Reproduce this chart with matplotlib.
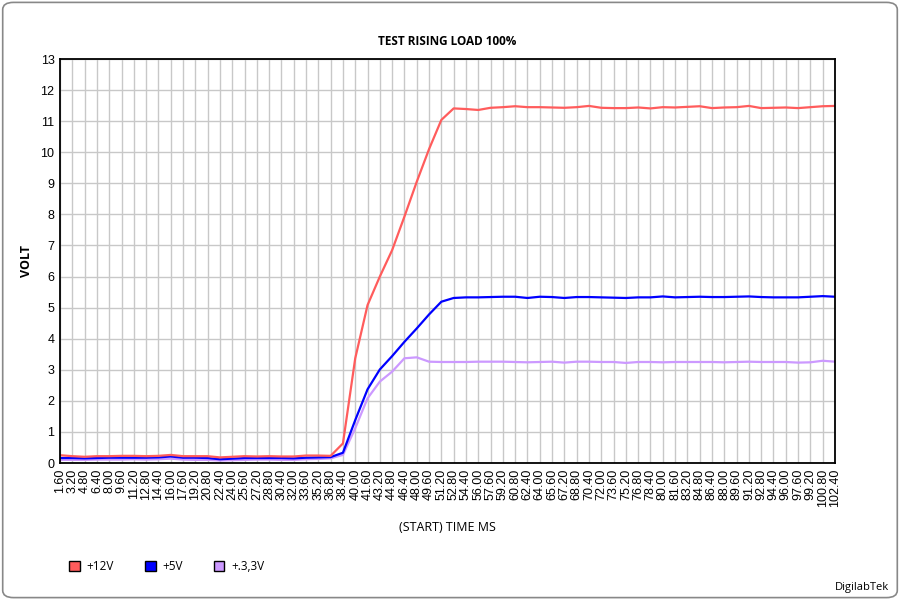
import matplotlib.pyplot as plt
from matplotlib.patches import Patch, FancyBboxPatch

times = ['1.60', '3.20', '4.80', '6.40', '8.00', '9.60', '11.20', '12.80', '14.40', '16.00',
         '17.60', '19.20', '20.80', '22.40', '24.00', '25.60', '27.20', '28.80', '30.40', '32.00',
         '33.60', '35.20', '36.80', '38.40', '40.00', '41.60', '43.20', '44.80', '46.40', '48.00',
         '49.60', '51.20', '52.80', '54.40', '56.00', '57.60', '59.20', '60.80', '62.40', '64.00',
         '65.60', '67.20', '68.80', '70.40', '72.00', '73.60', '75.20', '76.80', '78.40', '80.00',
         '81.60', '83.20', '84.80', '86.40', '88.00', '89.60', '91.20', '92.80', '94.40', '96.00',
         '97.60', '99.20', '100.80', '102.40']

v12 = [0.25, 0.22, 0.20, 0.22, 0.22, 0.23, 0.23, 0.22, 0.23, 0.26, 0.22, 0.22, 0.22, 0.18,
       0.20, 0.22, 0.21, 0.22, 0.21, 0.21, 0.24, 0.24, 0.23,
       0.63, 3.37, 5.08, 6.00, 6.85, 7.93, 9.05, 10.10, 11.04,
       11.41, 11.39, 11.36, 11.43, 11.45, 11.48, 11.45, 11.45, 11.44, 11.43, 11.45, 11.49,
       11.43, 11.42, 11.42, 11.44, 11.41, 11.45, 11.44, 11.46, 11.48, 11.42, 11.44, 11.45,
       11.49, 11.42, 11.43, 11.44, 11.42, 11.45, 11.48, 11.49]

v5 = [0.16, 0.16, 0.15, 0.16, 0.17, 0.17, 0.17, 0.17, 0.18, 0.21, 0.17, 0.17, 0.16, 0.12,
      0.14, 0.16, 0.16, 0.16, 0.16, 0.15, 0.17, 0.18, 0.19,
      0.33, 1.38, 2.37, 3.01, 3.44, 3.90, 4.33, 4.78, 5.19,
      5.31, 5.33, 5.33, 5.34, 5.35, 5.35, 5.31, 5.35, 5.34, 5.31, 5.34, 5.34, 5.33, 5.32,
      5.31, 5.33, 5.33, 5.36, 5.33, 5.34, 5.35, 5.34, 5.34, 5.35, 5.36, 5.34, 5.33, 5.33,
      5.33, 5.35, 5.37, 5.35]

v33 = [0.10, 0.10, 0.10, 0.11, 0.11, 0.11, 0.12, 0.11, 0.12, 0.14, 0.11, 0.10, 0.10, 0.08,
       0.09, 0.10, 0.11, 0.11, 0.10, 0.10, 0.12, 0.13, 0.15,
       0.26, 1.12, 2.08, 2.62, 2.94, 3.37, 3.40, 3.26, 3.25,
       3.25, 3.25, 3.26, 3.26, 3.26, 3.25, 3.24, 3.25, 3.26, 3.23, 3.26, 3.26, 3.25, 3.25,
       3.22, 3.25, 3.25, 3.24, 3.25, 3.25, 3.25, 3.25, 3.24, 3.25, 3.26, 3.25, 3.25, 3.25,
       3.23, 3.24, 3.29, 3.26]

series = ['+12V', '+5V', '+.3,3V']
colors = ['#ff5c5c', '#0000ff', '#cc99ff']

fig = plt.figure(figsize=(9, 6), dpi=100)
fig.patches.append(FancyBboxPatch((0.003, 0.004), 0.994, 0.992,
                                  boxstyle='round,pad=0,rounding_size=0.012',
                                  transform=fig.transFigure, facecolor='white',
                                  edgecolor='#888888', linewidth=1.2, zorder=-1))

ax = fig.add_axes([60 / 900, 137 / 600, 775 / 900, 404 / 600])
x = list(range(len(times)))
for vals, c in zip([v33, v5, v12], [colors[2], colors[1], colors[0]]):
    ax.plot(x, vals, color=c, linewidth=1.6)

ax.set_xlim(0, len(times) - 1)
ax.set_ylim(0, 13)
ax.set_xticks(x)
ax.set_xticklabels(times, rotation=90, fontsize=9, family='Liberation Sans')
ax.set_yticks(range(14))
ax.set_yticklabels([str(v) for v in range(14)], fontsize=9, family='Liberation Sans')
ax.tick_params(length=0, pad=4)
ax.grid(True, color='#c8c8c8', linewidth=1)
ax.set_axisbelow(True)
for s in ax.spines.values():
    s.set_color('black')
    s.set_linewidth(1.3)

ax.set_title('TEST RISING LOAD 100%', fontsize=8.5, fontweight='bold',
             family='Open Sans', pad=10)
ax.set_ylabel('VOLT', fontsize=9, fontweight='bold', family='Open Sans', labelpad=5)
ax.set_xlabel('(START) TIME MS', fontsize=9, family='Open Sans', labelpad=10)

handles = [Patch(facecolor=c, edgecolor='black', linewidth=1) for c in colors]
fig.legend(handles, series, loc='lower left', bbox_to_anchor=(0.065, 0.027), ncol=3,
           frameon=False, prop={'family': 'Open Sans', 'size': 8.5},
           handlelength=0.9, handleheight=0.9, handletextpad=0.6, columnspacing=2.6)

fig.text(0.988, 0.012, 'DigilabTek', ha='right', va='bottom', fontsize=8, family='Open Sans')

fig.savefig('out.png', dpi=100)
